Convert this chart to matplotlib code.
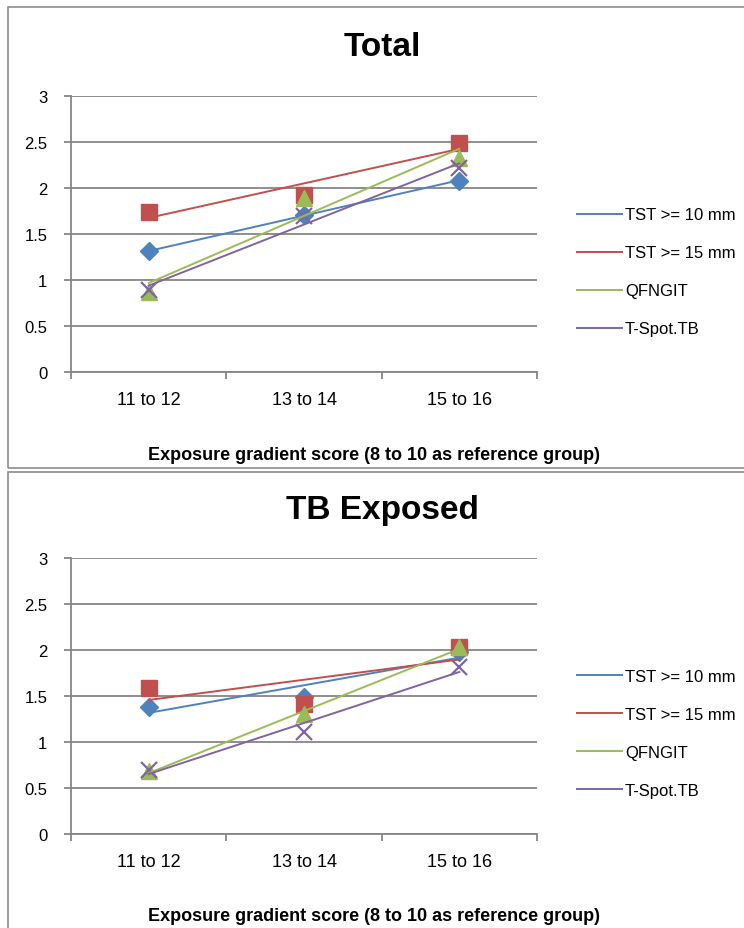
import numpy as np
import matplotlib
matplotlib.use('Agg')
import matplotlib.pyplot as plt
from matplotlib.lines import Line2D
from matplotlib.patches import Rectangle

plt.rcParams['font.family'] = ['Liberation Sans', 'DejaVu Sans']

categories = ['11 to 12', '13 to 14', '15 to 16']
series_names = ['TST >= 10 mm', 'TST >= 15 mm', 'QFNGIT', 'T-Spot.TB']

# Total
total_tst10 = [1.31, 1.71, 2.08]
total_tst15 = [1.74, 1.92, 2.49]
total_qfngit = [0.87, 1.89, 2.33]
total_tspot = [0.89, 1.70, 2.22]

# TB Exposed
exp_tst10 = [1.38, 1.49, 1.98]
exp_tst15 = [1.59, 1.41, 2.03]
exp_qfngit = [0.68, 1.30, 2.03]
exp_tspot = [0.70, 1.11, 1.81]

colors = ['#4F81BD', '#C0504D', '#9BBB59', '#8064A2']
markers = ['D', 's', '^', 'x']
msizes = [9.5, 11, 11, 11]
GRID = '#868686'

W, H = 744, 929
fig = plt.figure(figsize=(W / 100, H / 100), dpi=100)

# chart boxes
fig.patches.append(Rectangle((8 / W, 1 - 469 / H), 1, 461 / H, transform=fig.transFigure,
                             fill=False, edgecolor='#8c8c8c', lw=1.2))
fig.patches.append(Rectangle((8 / W, 1 - 940 / H), 1, 467 / H, transform=fig.transFigure,
                             fill=False, edgecolor='#8c8c8c', lw=1.2))


def draw_chart(top_px, title, data):
    # plot area in pixels: x 71..537, y top_px (value 3) .. top_px+276 (value 0)
    ax = fig.add_axes([71 / W, 1 - (top_px + 276) / H, 466 / W, 276 / H])
    x = np.arange(1, len(categories) + 1)
    handles = []
    for vals, c, m, ms, name in zip(data, colors, markers, msizes, series_names):
        vals = np.array(vals)
        if m == 'x':
            ax.plot(x, vals, linestyle='none', marker=m, markersize=ms, color=c,
                    markeredgewidth=1.6, zorder=3)
        else:
            ax.plot(x, vals, linestyle='none', marker=m, markersize=ms, color=c,
                    markeredgecolor=c, zorder=3)
        # linear trend line
        k, b = np.polyfit(x, vals, 1)
        ax.plot(x, k * x + b, color=c, lw=1.4, zorder=4)
        handles.append(Line2D([], [], color=c, lw=1.4))

    ax.set_xlim(0.5, 3.5)
    ax.set_ylim(0, 3)
    ax.set_yticks(np.arange(0, 3.01, 0.5))
    ax.set_yticklabels(['0', '0.5', '1', '1.5', '2', '2.5', '3'])
    ax.yaxis.grid(True, color=GRID, lw=1.3)
    ax.set_axisbelow(True)
    ax.set_xticks(x)
    ax.set_xticklabels(categories)
    ax.set_xticks([0.5, 1.5, 2.5, 3.5], minor=True)
    ax.tick_params(axis='x', which='major', length=0, pad=14, labelsize=13)
    ax.tick_params(axis='x', which='minor', length=5, color=GRID, width=1.3)
    ax.tick_params(axis='y', length=5, color=GRID, width=1.3, pad=12, labelsize=12)
    for s in ['top', 'right']:
        ax.spines[s].set_visible(False)
    for s in ['left', 'bottom']:
        ax.spines[s].set_color(GRID)
        ax.spines[s].set_linewidth(1.3)
    ax.patch.set_alpha(0)

    fig.text(382 / W, 1 - (top_px - 49) / H, title, ha='center', va='center',
             fontsize=24, fontweight='bold')
    fig.text(374 / W, 1 - (top_px + 358) / H,
             'Exposure gradient score (8 to 10 as reference group)',
             ha='center', va='center', fontsize=13, fontweight='bold')
    fig.legend(handles, series_names, loc='upper left',
               bbox_to_anchor=(569 / W, 1 - (top_px + 103) / H),
               bbox_transform=fig.transFigure, frameon=False, fontsize=12,
               handlelength=2.7, handletextpad=0.15, labelspacing=1.38, borderpad=0)


draw_chart(97, 'Total', [total_tst10, total_tst15, total_qfngit, total_tspot])
draw_chart(559, 'TB Exposed', [exp_tst10, exp_tst15, exp_qfngit, exp_tspot])

fig.savefig('out.png', dpi=100, facecolor='white')
